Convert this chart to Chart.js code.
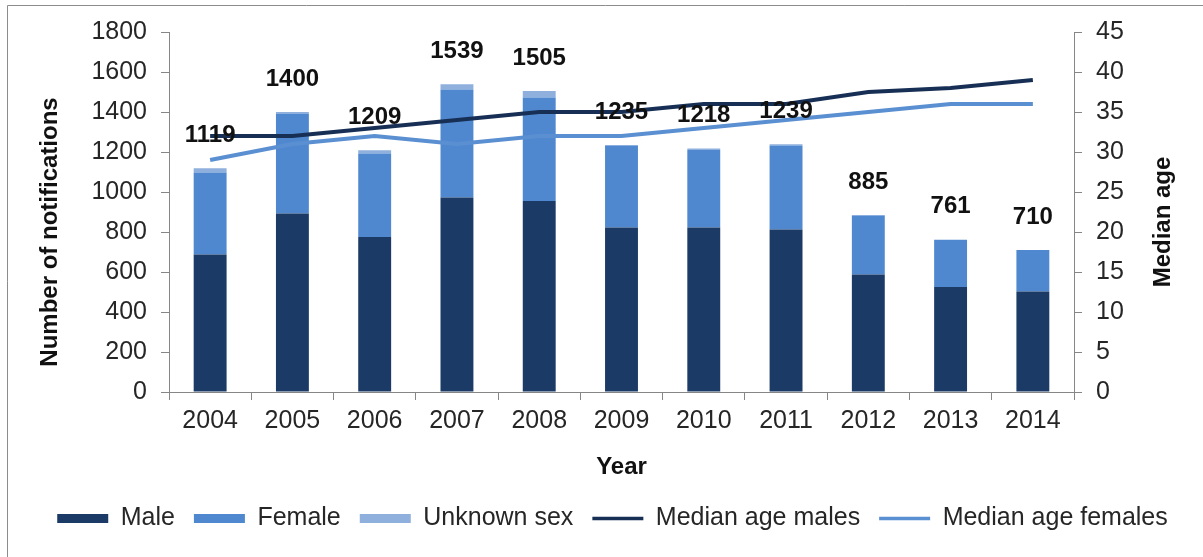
<!DOCTYPE html>
<html>
<head>
<meta charset="utf-8">
<script src="https://cdn.jsdelivr.net/npm/chart.js@4.4.1/dist/chart.umd.min.js"></script>
<style>
  body { margin: 0; background: #fff; }
</style>
</head>
<body>
<canvas id="chart" width="1203" height="557"></canvas>
<script>
// --- DATA ---
const years = ['2004', '2005', '2006', '2007', '2008', '2009', '2010', '2011', '2012', '2013', '2014'];
const male = [688, 893, 775, 972, 955, 823, 823, 813, 587, 525, 502];
const female = [409, 497, 418, 541, 518, 410, 387, 420, 296, 236, 208];
const unknownSex = [22, 10, 16, 26, 32, 2, 8, 6, 2, 0, 0];
const totals = [1119, 1400, 1209, 1539, 1505, 1235, 1218, 1239, 885, 761, 710];
const medianMales = [32, 32, 33, 34, 35, 35, 36, 36, 37.5, 38, 39];
const medianFemales = [29, 31, 32, 31, 32, 32, 33, 34, 35, 36, 36];
const leftTicks = [0, 200, 400, 600, 800, 1000, 1200, 1400, 1600, 1800];
const rightTicks = [0, 5, 10, 15, 20, 25, 30, 35, 40, 45];

const FONT = '"Liberation Sans", Arial, sans-serif';
const AXIS = '#868686';
const TEXT = '#262626';

Chart.defaults.font.family = FONT;
Chart.defaults.color = TEXT;

// borda, rótulos dos totais e títulos dos eixos
const extras = {
    id: 'extras',
    afterLayout(chart) {
        // legenda um pouco deslocada para a direita, como no original
        chart.legend.left += 11;
        chart.legend.right += 11;
    },
    beforeDraw(chart) {
        const c = chart.ctx;
        c.save();
        c.strokeStyle = '#8c8c8c';
        c.lineWidth = 1;
        c.beginPath();
        c.moveTo(7.5, 557);
        c.lineTo(7.5, 5.5);
        c.lineTo(1203, 5.5);
        c.stroke();
        c.restore();
    },
    afterDatasetsDraw(chart) {
        const c = chart.ctx;
        const y = chart.scales.y;
        const meta = chart.getDatasetMeta(0);
        c.save();
        c.font = 'bold 24px ' + FONT;
        c.fillStyle = '#111';
        c.textAlign = 'center';
        c.textBaseline = 'middle';
        totals.forEach((t, i) => {
            c.fillText(String(t), meta.data[i].x, y.getPixelForValue(t) - 33);
        });

        const area = chart.chartArea;
        c.fillText('Year', (area.left + area.right) / 2, 467);

        c.translate(50, 232);
        c.rotate(-Math.PI / 2);
        c.fillText('Number of notifications', 0, 0);
        c.restore();

        c.save();
        c.font = 'bold 24px ' + FONT;
        c.fillStyle = '#111';
        c.textAlign = 'center';
        c.textBaseline = 'middle';
        c.translate(1163, 222);
        c.rotate(-Math.PI / 2);
        c.fillText('Median age', 0, 0);
        c.restore();
    }
};

const tickFont = { size: 25 };

new Chart(document.getElementById('chart'), {
    data: {
        labels: years,
        datasets: [
            { type: 'bar', label: 'Male', data: male, backgroundColor: '#1b3a66', yAxisID: 'y', barPercentage: 0.4, categoryPercentage: 1 },
            { type: 'bar', label: 'Female', data: female, backgroundColor: '#5088cf', yAxisID: 'y', barPercentage: 0.4, categoryPercentage: 1 },
            { type: 'bar', label: 'Unknown sex', data: unknownSex, backgroundColor: '#8fb0dc', yAxisID: 'y', barPercentage: 0.4, categoryPercentage: 1 },
            { type: 'line', label: 'Median age males', data: medianMales, borderColor: '#172f55', backgroundColor: '#172f55', borderWidth: 4, pointRadius: 0, tension: 0, yAxisID: 'y2', order: -1 },
            { type: 'line', label: 'Median age females', data: medianFemales, borderColor: '#5a8fd2', backgroundColor: '#5a8fd2', borderWidth: 4, pointRadius: 0, tension: 0, yAxisID: 'y2', order: -1 }
        ]
    },
    options: {
        responsive: false,
        animation: false,
        layout: { padding: { top: 32, bottom: 16, left: 0, right: 0 } },
        plugins: {
            tooltip: { enabled: false },
            legend: {
                position: 'bottom',
                labels: {
                    font: { size: 25 },
                    color: TEXT,
                    usePointStyle: true,
                    pointStyleWidth: 51,
                    boxHeight: 9,
                    padding: 19,
                    sort: (a, b) => a.datasetIndex - b.datasetIndex,
                    generateLabels(chart) {
                        const items = Chart.defaults.plugins.legend.labels.generateLabels(chart);
                        items.forEach(it => {
                            const ds = chart.data.datasets[it.datasetIndex];
                            if (ds.type === 'line') {
                                it.pointStyle = 'line';
                                it.lineWidth = 3.5;
                                it.strokeStyle = ds.borderColor;
                            } else {
                                it.pointStyle = 'rect';
                                it.lineWidth = 0;
                            }
                        });
                        return items;
                    }
                }
            }
        },
        scales: {
            x: {
                stacked: true,
                afterFit: s => { s.height = 95; },
                grid: { drawOnChartArea: false, tickLength: 8, color: AXIS },
                border: { color: AXIS },
                ticks: { font: tickFont, padding: 6, color: TEXT, maxRotation: 0 }
            },
            y: {
                stacked: true,
                position: 'left',
                min: 0,
                max: 1800,
                afterFit: s => { s.width = 169; },
                afterBuildTicks: s => { s.ticks = leftTicks.map(v => ({ value: v })); },
                grid: { drawOnChartArea: false, tickLength: 8, color: AXIS },
                border: { color: AXIS },
                ticks: { font: tickFont, padding: 14, color: TEXT, callback: v => String(v) }
            },
            y2: {
                position: 'right',
                min: 0,
                max: 45,
                afterFit: s => { s.width = 129; },
                afterBuildTicks: s => { s.ticks = rightTicks.map(v => ({ value: v })); },
                grid: { drawOnChartArea: false, tickLength: 8, color: AXIS },
                border: { color: AXIS },
                ticks: { font: tickFont, padding: 14, color: TEXT, callback: v => String(v) }
            }
        }
    },
    plugins: [extras]
});
</script>
</body>
</html>
